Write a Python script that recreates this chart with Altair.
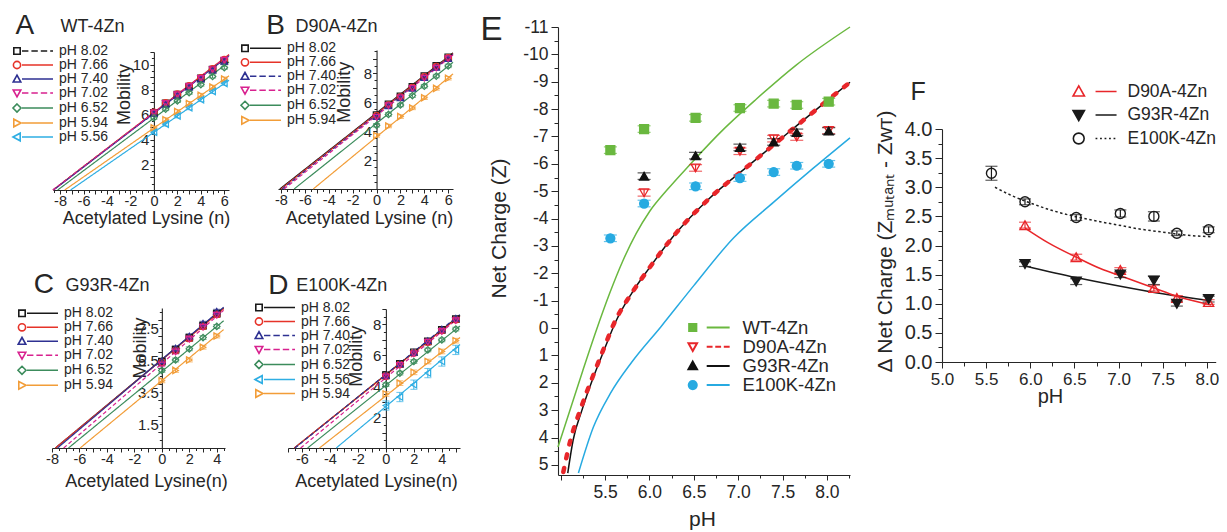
import math
import altair as alt
import pandas as pd

FONT = "Liberation Sans"
INK = "#262626"

# ============================ DATA ============================
# ---- Panel A : WT-4Zn ----
A_SERIES = ["pH 8.02", "pH 7.66", "pH 7.40", "pH 7.02", "pH 6.52", "pH 5.94", "pH 5.56"]
A_N = [0, 1, 2, 3, 4, 5, 6]
A_MOB = [
    [6.15, 6.90, 7.60, 8.25, 8.90, 9.60, 10.30],
    [6.20, 6.95, 7.65, 8.30, 8.95, 9.65, 10.40],
    [6.10, 6.85, 7.55, 8.20, 8.85, 9.55, 10.25],
    [6.15, 6.90, 7.60, 8.25, 8.90, 9.60, 10.35],
    [5.75, 6.45, 7.10, 7.75, 8.40, 9.05, 9.75],
    [4.95, 5.60, 6.25, 6.90, 7.55, 8.20, 8.85],
    [4.60, 5.25, 5.90, 6.55, 7.20, 7.85, 8.50],
]
A_ERR = [0.12, 0.12, 0.12, 0.12, 0.12, 0.15, 0.15]
A_FIT_X0 = [-8.6, -8.6, -8.55, -8.6, -8.2, -7.6, -7.1]
A_FIT_X1 = [6.4, 6.4, 6.4, 6.4, 6.4, 6.4, 6.4]
A_FIT_Y1 = [10.75, 10.8, 10.7, 10.75, 10.2, 9.1, 8.75]
A_DASHED = ["pH 8.02", "pH 7.02"]

# ---- Panel B : D90A-4Zn ----
B_SERIES = ["pH 8.02", "pH 7.66", "pH 7.40", "pH 7.02", "pH 6.52", "pH 5.94"]
B_N = [0, 1, 2, 3, 4, 5, 6]
B_MOB = [
    [5.10, 5.85, 6.40, 7.05, 7.80, 8.50, 9.10],
    [5.05, 5.80, 6.35, 7.00, 7.75, 8.45, 9.05],
    [5.00, 5.75, 6.30, 6.95, 7.70, 8.40, 9.00],
    [4.95, 5.75, 6.30, 6.95, 7.65, 8.35, 9.00],
    [4.40, 5.15, 5.80, 6.45, 7.10, 7.80, 8.50],
    [3.70, 4.35, 5.00, 5.60, 6.30, 6.95, 7.65],
]
B_ERR = [0.12, 0.12, 0.12, 0.12, 0.12, 0.12]
B_FIT_X0 = [-8.1, -8.0, -7.9, -7.75, -6.9, -5.3]
B_FIT_X1 = [6.4, 6.4, 6.4, 6.4, 6.4, 6.4]
B_FIT_Y1 = [9.4, 9.35, 9.3, 9.25, 8.75, 7.95]
B_DASHED = ["pH 7.40", "pH 7.02"]

# ---- Panel C : G93R-4Zn ----
C_SERIES = ["pH 8.02", "pH 7.66", "pH 7.40", "pH 7.02", "pH 6.52", "pH 5.94"]
C_N = [0, 1, 2, 3, 4]
C_MOB = [
    [5.40, 6.15, 6.90, 7.65, 8.40],
    [5.35, 6.10, 6.85, 7.60, 8.35],
    [5.45, 6.25, 7.00, 7.80, 8.55],
    [5.20, 6.00, 6.80, 7.55, 8.30],
    [4.85, 5.50, 6.20, 6.90, 7.60],
    [4.20, 4.85, 5.50, 6.30, 7.00],
]
C_ERR = [0.12, 0.12, 0.12, 0.12, 0.12, 0.12]
C_FIT_X0 = [-7.75, -7.75, -7.6, -7.15, -6.8, -5.95]
C_FIT_X1 = [4.5, 4.5, 4.5, 4.5, 4.5, 4.5]
C_FIT_Y1 = [8.75, 8.7, 8.8, 8.6, 7.95, 7.4]
C_DASHED = ["pH 7.02"]

# ---- Panel D : E100K-4Zn ----
D_SERIES = ["pH 8.02", "pH 7.66", "pH 7.40", "pH 7.02", "pH 6.52", "pH 5.56", "pH 5.94"]
D_N = [0, 1, 2, 3, 4, 5]
D_MOB = [
    [4.70, 5.45, 6.20, 6.90, 7.65, 8.35],
    [4.65, 5.40, 6.15, 6.85, 7.60, 8.30],
    [4.70, 5.45, 6.20, 6.95, 7.70, 8.40],
    [4.60, 5.35, 6.10, 6.85, 7.55, 8.25],
    [4.10, 4.85, 5.60, 6.35, 7.00, 7.70],
    [2.75, 3.30, 4.10, 4.85, 5.60, 6.35],
    [3.50, 4.20, 4.90, 5.60, 6.25, 6.95],
]
D_ERR = [0.12, 0.12, 0.12, 0.12, 0.12, 0.3, 0.15]
D_FIT_X0 = [-6.55, -6.55, -6.5, -6.1, -5.6, -3.55, -4.75]
D_FIT_X1 = [5.3, 5.3, 5.3, 5.3, 5.3, 5.3, 5.3]
D_FIT_Y1 = [8.6, 8.55, 8.65, 8.5, 7.9, 6.7, 7.15]
D_DASHED = ["pH 7.40", "pH 7.02"]

# ---- Panel E : net charge vs pH ----
E_SERIES = ["WT-4Zn", "D90A-4Zn", "G93R-4Zn", "E100K-4Zn"]
E_PH = [5.56, 5.94, 6.52, 7.02, 7.40, 7.66, 8.02]
E_WT_Z = [-6.50, -7.27, -7.68, -8.04, -8.20, -8.15, -8.27]
E_D90A_Z = [None, -4.94, -5.85, -6.46, -6.92, -6.98, -7.22]
E_G93R_Z = [None, -5.55, -6.30, -6.60, -6.80, -7.15, -7.20]
E_E100K_Z = [-3.28, -4.55, -5.18, -5.48, -5.70, -5.93, -6.00]
E_ERR = [0.12, 0.12, 0.12, 0.12]
E_WT_FIT_PH = [4.97, 5.10, 5.25, 5.40, 5.55, 5.70, 5.85, 6.00, 6.20, 6.45, 6.80, 7.20, 7.65, 8.26]
E_WT_FIT_Z = [4.35, 3.05, 1.55, 0.10, -1.25, -2.45, -3.45, -4.25, -5.05, -5.95, -7.15, -8.35, -9.60, -11.0]
E_D90A_FIT_PH = [5.03, 5.11, 5.22, 5.37, 5.48, 5.61, 5.80, 6.00, 6.30, 6.66, 7.13, 7.58, 8.03, 8.26]
E_D90A_FIT_Z = [5.26, 4.10, 3.00, 1.70, 0.80, -0.23, -1.27, -2.20, -3.47, -4.69, -5.97, -7.18, -8.38, -8.98]
E_G93R_FIT_PH = [5.08, 5.14, 5.24, 5.38, 5.49, 5.62, 5.80, 6.00, 6.30, 6.66, 7.13, 7.58, 8.03, 8.26]
E_G93R_FIT_Z = [5.30, 4.10, 3.00, 1.70, 0.80, -0.23, -1.27, -2.20, -3.47, -4.69, -5.97, -7.18, -8.38, -8.98]
E_E100K_FIT_PH = [5.20, 5.37, 5.56, 5.80, 6.13, 6.50, 6.95, 7.40, 7.85, 8.26]
E_E100K_FIT_Z = [5.30, 3.61, 2.39, 1.25, -0.05, -1.55, -3.30, -4.60, -5.85, -6.95]

# ---- Panel F : delta net charge vs pH ----
F_SERIES = ["D90A-4Zn", "G93R-4Zn", "E100K-4Zn"]
F_PH = [5.56, 5.94, 6.52, 7.02, 7.40, 7.66, 8.02]
F_D90A = [None, 2.35, 1.80, 1.58, 1.27, 1.10, 1.03]
F_G93R = [None, 1.68, 1.38, 1.50, 1.40, 1.00, 1.08]
F_E100K = [3.24, 2.75, 2.48, 2.55, 2.50, 2.21, 2.27]
F_D90A_ERR = [None, 0.05, 0.05, 0.04, 0.05, 0.04, 0.04]
F_G93R_ERR = [None, 0.04, 0.05, 0.05, 0.07, 0.04, 0.05]
F_E100K_ERR = [0.12, 0.05, 0.05, 0.06, 0.08, 0.04, 0.05]
F_D90A_FIT_PH = [5.94, 6.20, 6.52, 6.80, 7.02, 7.40, 7.66, 8.05]
F_D90A_FIT = [2.30, 2.05, 1.80, 1.60, 1.48, 1.27, 1.13, 0.98]
F_G93R_FIT_PH = [5.94, 6.52, 7.02, 7.50, 8.05]
F_G93R_FIT = [1.65, 1.45, 1.30, 1.17, 1.05]
F_E100K_FIT_PH = [5.60, 5.80, 6.00, 6.25, 6.50, 6.75, 7.00, 7.25, 7.50, 7.75, 8.05]
F_E100K_FIT = [3.00, 2.85, 2.73, 2.60, 2.50, 2.42, 2.35, 2.28, 2.23, 2.18, 2.15]

# ============================ STYLE ============================
PH_COLOR = {"pH 8.02": "#1a1a1a", "pH 7.66": "#e63329", "pH 7.40": "#2e3192",
            "pH 7.02": "#d8218f", "pH 6.52": "#3c8c5c", "pH 5.94": "#f29d38",
            "pH 5.56": "#2faee3"}
PH_SHAPE = {"pH 8.02": "square", "pH 7.66": "circle", "pH 7.40": "triangle-up",
            "pH 7.02": "triangle-down", "pH 6.52": "diamond", "pH 5.94": "triangle-right",
            "pH 5.56": "triangle-left"}
MUT_COLOR = {"WT-4Zn": "#6ab83f", "D90A-4Zn": "#e8262a", "G93R-4Zn": "#111111", "E100K-4Zn": "#27aae1"}

MARKER_PATHS = {
    "square": "M-0.8,-0.8L0.8,-0.8L0.8,0.8L-0.8,0.8Z",
    "circle": "M-0.9,0A0.9,0.9,0,1,0,0.9,0A0.9,0.9,0,1,0,-0.9,0Z",
    "triangle-up": "M0,-0.95L0.95,0.75L-0.95,0.75Z",
    "triangle-down": "M0,0.95L0.95,-0.75L-0.95,-0.75Z",
    "diamond": "M0,-1L1,0L0,1L-1,0Z",
    "triangle-right": "M1,0L-0.8,-0.95L-0.8,0.95Z",
    "triangle-left": "M-1,0L0.8,-0.95L0.8,0.95Z",
}

# ============================ LAYOUT (page pixels) ============================
W, H = 1211, 524       # single view covering the page (8 px page margin)
PM = 8                 # page margin -> view coordinate shift


def pv(p):
    return p - PM


LAY = {
    "A": {"xdom": [-8.6, 6.4], "ydom": [0, 11], "xr": [53, 229], "yr": [190, 52],
          "xtitle": "Acetylated Lysine (n)", "xt": [146, 33], "mob": [-29, 94],
          "leg": [10, 44], "let": [15, 33], "name": [60, 31.7]},
    "B": {"xdom": [-8.25, 6.4], "ydom": [0, 9.6], "xr": [278, 453], "yr": [189, 50],
          "xtitle": "Acetylated Lysine (n)", "xt": [369, 34], "mob": [-32, 91.7],
          "leg": [238, 41.3], "let": [265.7, 33.3], "name": [295, 31.7]},
    "C": {"xdom": [-8.0, 4.6], "ydom": [0, 8.75], "xr": [52, 225], "yr": [448, 308],
          "xtitle": "Acetylated Lysine(n)", "xt": [146, 38], "mob": [-21.8, 347.5],
          "leg": [15, 306.3], "let": [33.3, 292.7], "name": [65, 290.7]},
    "D": {"xdom": [-7.0, 5.3], "ydom": [0, 9.0], "xr": [288, 460], "yr": [448, 309],
          "xtitle": "Acetylated Lysine(n)", "xt": [376, 38], "mob": [-29.4, 355.8],
          "leg": [252, 300.5], "let": [267.7, 293.3], "name": [295.7, 290]},
}


def seg_path(x0, x1, dash=None, gap=None):
    if dash is None:
        return f"M{x0:.2f},0L{x1:.2f},0"
    out, x = [], x0
    while x < x1 - 1e-6:
        e = min(x + dash, x1)
        out.append(f"M{x:.2f},0L{e:.2f},0")
        x = e + gap
    return "".join(out)


def tick_values(lo, hi, step):
    start = math.ceil(lo / step - 1e-9) * step
    vals, k = [], 0
    while start + k * step <= hi + 1e-9:
        vals.append(round(start + k * step, 4))
        k += 1
    return vals


def cond_size(test, major, minor):
    return {"condition": {"test": test, "value": major}, "value": minor}


def title_axis(orient, text, size, pos):
    # axis used only to carry a positioned title (panel letter / panel name)
    return alt.Axis(orient=orient, offset=0, title=text, titleFontSize=size, titleFont=FONT,
                    titleFontWeight="normal", titleColor=INK, titleAngle=0,
                    titleAlign="left", titleBaseline="alphabetic",
                    titleX=pv(pos[0]), titleY=pv(pos[1]),
                    domain=False, ticks=False, labels=False, grid=False)


def make_legend(pos, size, font, offset, rowpad, sw):
    return alt.Legend(orient="none", legendX=pv(pos[0]), legendY=pv(pos[1]), title=None,
                      labelFont=FONT, labelFontSize=font, labelColor=INK,
                      symbolSize=size, symbolStrokeWidth=sw, labelOffset=offset,
                      rowPadding=rowpad, padding=0, labelLimit=300)


# ============================ PANELS A-D ============================
def mobility_panel(series, N, MOB, ERR, X0, X1, Y1, dashed, letter, name, L, ylab):
    xmin, xmax = L["xdom"]
    xr = [pv(L["xr"][0]), pv(L["xr"][1])]
    yr = [pv(L["yr"][0]), pv(L["yr"][1])]
    xs = alt.Scale(domain=L["xdom"], range=xr, nice=False, zero=False)
    ys = alt.Scale(domain=L["ydom"], range=yr, nice=False, zero=False)
    cs = alt.Scale(domain=series, range=[PH_COLOR[s] for s in series])
    shp = alt.Scale(domain=series, range=[PH_SHAPE[s] for s in series])
    ds = alt.Scale(domain=series, range=[[4, 2.5] if s in dashed else [1, 0] for s in series])

    pts = pd.DataFrame([{"s": s, "n": n, "m": v, "lo": v - e, "hi": v + e}
                        for s, vals, e in zip(series, MOB, ERR) for n, v in zip(N, vals)])
    fit = pd.DataFrame([r for s, a, b, c in zip(series, X0, X1, Y1)
                        for r in ({"s": s, "x": a, "y": 0.0, "o": 0}, {"s": s, "x": b, "y": c, "o": 1})])

    x_zero = xr[0] + (0 - xmin) / (xmax - xmin) * (xr[1] - xr[0])
    xaxis = alt.Axis(orient="bottom", offset=yr[0] - H, values=tick_values(xmin, xmax, 0.5),
                     labelExpr="datum.value % 2 === 0 ? '' + datum.value : ''",
                     tickSize=cond_size("datum.value % 1 === 0", 4, 2.5),
                     labelFontSize=14.5, labelPadding=0, labelOverlap=False, labelFlush=False,
                     title=L["xtitle"], titleFontSize=18, titleAngle=0, titleAlign="center",
                     titleBaseline="alphabetic", titleX=pv(L["xt"][0]), titleY=L["xt"][1], grid=False)
    yaxis = alt.Axis(orient="left", offset=-x_zero, values=tick_values(0.5, L["ydom"][1], 0.5),
                     labelExpr=ylab, tickSize=cond_size("datum.value % 1 === 0", 4, 2.5),
                     labelFontSize=15, labelPadding=1, labelOverlap=False, labelFlush=False,
                     title="Mobility", titleFontSize=18, titleAngle=270,
                     titleBaseline="middle", titleAlign="center",
                     titleX=L["mob"][0], titleY=pv(L["mob"][1]), grid=False)

    X = lambda f, ax=None: alt.X(f, scale=xs, axis=ax)
    Y = lambda f, ax=None: alt.Y(f, scale=ys, axis=ax)
    col = alt.Color("s:N", scale=cs, legend=None)

    lines = alt.Chart(fit).mark_line(strokeWidth=1.2).encode(
        x=X("x:Q", xaxis), y=Y("y:Q", yaxis), color=col,
        strokeDash=alt.StrokeDash("s:N", scale=ds, legend=None), order="o:Q")
    bars = alt.Chart(pts).mark_rule(strokeWidth=1).encode(
        x=X("n:Q"), y=Y("lo:Q"), y2="hi:Q", color=col)
    caps = alt.Chart(pts).transform_fold(["lo", "hi"], as_=["k", "v"]).mark_tick(
        orient="horizontal", size=7, thickness=1).encode(x=X("n:Q"), y=Y("v:Q"), color=col)
    points = alt.Chart(pts).mark_point(filled=False, size=42, strokeWidth=1.2, opacity=1).encode(
        x=X("n:Q"), y=Y("m:Q"), color=col, shape=alt.Shape("s:N", scale=shp, legend=None))

    paths = [MARKER_PATHS[PH_SHAPE[s]] + (seg_path(1.25, 9.0, 1.6, 0.75) if s in dashed else seg_path(1.25, 9.0))
             for s in series]
    leg = make_legend(L["leg"], 64, 14, 35, 0, 1.6)
    legend_layer = alt.Chart(pd.DataFrame({"s": series})).transform_filter("false").mark_point(
        filled=False, opacity=1).encode(
        x=X("lx:Q", title_axis("top", name, 18, L["name"])),
        y=Y("ly:Q", title_axis("left", letter, 28, L["let"])),
        color=alt.Color("s:N", scale=alt.Scale(domain=series, range=[PH_COLOR[s] for s in series]), legend=leg),
        shape=alt.Shape("s:N", scale=alt.Scale(domain=series, range=paths), legend=leg))

    return alt.layer(lines, bars, caps, points, legend_layer).resolve_scale(
        color="independent", shape="independent", strokeDash="independent").resolve_axis(
        x="independent", y="independent")


even_lab = "datum.value % 2 === 0 ? '' + datum.value : ''"
c_lab = "(datum.value - 1.5) % 2 === 0 && datum.value > 1 ? format(datum.value, '.1f') : ''"
pA = mobility_panel(A_SERIES, A_N, A_MOB, A_ERR, A_FIT_X0, A_FIT_X1, A_FIT_Y1, A_DASHED,
                    "A", "WT-4Zn", LAY["A"], even_lab)
pB = mobility_panel(B_SERIES, B_N, B_MOB, B_ERR, B_FIT_X0, B_FIT_X1, B_FIT_Y1, B_DASHED,
                    "B", "D90A-4Zn", LAY["B"], even_lab)
pC = mobility_panel(C_SERIES, C_N, C_MOB, C_ERR, C_FIT_X0, C_FIT_X1, C_FIT_Y1, C_DASHED,
                    "C", "G93R-4Zn", LAY["C"], c_lab)
pD = mobility_panel(D_SERIES, D_N, D_MOB, D_ERR, D_FIT_X0, D_FIT_X1, D_FIT_Y1, D_DASHED,
                    "D", "E100K-4Zn", LAY["D"], even_lab)

# ============================ PANEL E ============================
E_VALUES = [E_WT_Z, E_D90A_Z, E_G93R_Z, E_E100K_Z]
e_pts = pd.DataFrame([{"s": s, "ph": p, "z": v, "lo": v - e, "hi": v + e}
                      for s, vals, e in zip(E_SERIES, E_VALUES, E_ERR)
                      for p, v in zip(E_PH, vals) if v is not None])
exs = alt.Scale(domain=[4.97, 8.26], range=[pv(558), pv(850)], nice=False, zero=False)
eys = alt.Scale(domain=[-11, 5.37], range=[pv(27), pv(475)], nice=False, zero=False)
EX = lambda f, ax=None: alt.X(f, scale=exs, axis=ax)
EY = lambda f, ax=None: alt.Y(f, scale=eys, axis=ax)
e_xaxis = alt.Axis(orient="bottom", offset=pv(475) - H, values=tick_values(5.0, 8.26, 0.25),
                   labelExpr="datum.value % 0.5 === 0 && datum.value > 5.2 ? format(datum.value, '.1f') : ''",
                   tickSize=cond_size("datum.value % 0.5 === 0", 5, 3),
                   labelFontSize=17.5, labelPadding=3, labelOverlap=False, labelFlush=False,
                   title="pH", titleFontSize=21, titleAngle=0, titleAlign="center",
                   titleBaseline="alphabetic", titleX=pv(702), titleY=50, grid=False)
e_yaxis = alt.Axis(orient="left", offset=-pv(558), values=tick_values(-11, 5.37, 0.5),
                   labelExpr="datum.value % 1 === 0 ? '' + datum.value : ''",
                   tickSize=cond_size("datum.value % 1 === 0", 7, 4),
                   labelFontSize=17.5, labelPadding=3, labelOverlap=False, labelFlush=False,
                   title="Net Charge (Z)", titleFontSize=21, titleAngle=270, titleAlign="center",
                   titleBaseline="middle", titleX=-59, titleY=pv(228), grid=False)


def curve(ph, z, color, width, dash=None, ax=(None, None), cap="butt"):
    kw = {"strokeWidth": width, "color": color, "interpolate": "monotone", "strokeCap": cap}
    if dash:
        kw["strokeDash"] = dash
    return alt.Chart(pd.DataFrame({"ph": ph, "z": z})).mark_line(**kw).encode(
        x=EX("ph:Q", ax[0]), y=EY("z:Q", ax[1]))


e_curves = [
    curve(E_WT_FIT_PH, E_WT_FIT_Z, MUT_COLOR["WT-4Zn"], 1.5, ax=(e_xaxis, e_yaxis)),
    curve(E_E100K_FIT_PH, E_E100K_FIT_Z, MUT_COLOR["E100K-4Zn"], 1.5),
    curve(E_G93R_FIT_PH, E_G93R_FIT_Z, MUT_COLOR["G93R-4Zn"], 1.5),
    curve(E_D90A_FIT_PH, E_D90A_FIT_Z, MUT_COLOR["D90A-4Zn"], 4.5, dash=[4, 10], cap="round"),
]
e_col = alt.Color("s:N", scale=alt.Scale(domain=E_SERIES, range=[MUT_COLOR[s] for s in E_SERIES]), legend=None)
e_bars = alt.Chart(e_pts).mark_rule(strokeWidth=1.2).encode(x=EX("ph:Q"), y=EY("lo:Q"), y2="hi:Q", color=e_col)
e_caps = alt.Chart(e_pts).transform_fold(["lo", "hi"], as_=["k", "v"]).mark_tick(
    orient="horizontal", size=13, thickness=1.2).encode(x=EX("ph:Q"), y=EY("v:Q"), color=e_col)
E_SHAPE = ["square", "triangle-down", "triangle-up", "circle"]
E_FILL = [MUT_COLOR["WT-4Zn"], "transparent", MUT_COLOR["G93R-4Zn"], MUT_COLOR["E100K-4Zn"]]
E_STROKE = [MUT_COLOR[s] for s in E_SERIES]
e_points = alt.Chart(e_pts).mark_point(filled=True, size=80, strokeWidth=1.3, opacity=1).encode(
    x=EX("ph:Q"), y=EY("z:Q"),
    fill=alt.Fill("s:N", scale=alt.Scale(domain=E_SERIES, range=E_FILL), legend=None),
    stroke=alt.Stroke("s:N", scale=alt.Scale(domain=E_SERIES, range=E_STROKE), legend=None),
    shape=alt.Shape("s:N", scale=alt.Scale(domain=E_SERIES, range=E_SHAPE), legend=None))
e_paths = [MARKER_PATHS[sh] + (seg_path(3.1, 8.2, 1.3, 0.6) if s == "D90A-4Zn" else seg_path(3.1, 8.2))
           for s, sh in zip(E_SERIES, E_SHAPE)]
e_leg = make_legend([683.5, 318.25], 81, 18.5, 40.5, 0.2, 2)
e_legend = alt.Chart(pd.DataFrame({"s": E_SERIES})).transform_filter("false").mark_point(
    filled=True, opacity=1).encode(
    x=EX("lx:Q"), y=EY("ly:Q", title_axis("left", "E", 33, [480, 39.5])),
    fill=alt.Fill("s:N", scale=alt.Scale(domain=E_SERIES, range=E_FILL), legend=e_leg),
    stroke=alt.Stroke("s:N", scale=alt.Scale(domain=E_SERIES, range=E_STROKE), legend=e_leg),
    shape=alt.Shape("s:N", scale=alt.Scale(domain=E_SERIES, range=e_paths), legend=e_leg))
pE = alt.layer(*e_curves, e_bars, e_caps, e_points, e_legend).resolve_scale(
    color="independent", fill="independent", stroke="independent", shape="independent").resolve_axis(
    x="independent", y="independent")

# ============================ PANEL F ============================
F_VALUES = [F_D90A, F_G93R, F_E100K]
F_ERRS = [F_D90A_ERR, F_G93R_ERR, F_E100K_ERR]
f_pts = pd.DataFrame([{"s": s, "ph": p, "d": v, "lo": v - e, "hi": v + e}
                      for s, vals, errs in zip(F_SERIES, F_VALUES, F_ERRS)
                      for p, v, e in zip(F_PH, vals, errs) if v is not None])
fxs = alt.Scale(domain=[5.0, 8.1], range=[pv(942), pv(1215.7)], nice=False, zero=False)
fys = alt.Scale(domain=[0, 4.0], range=[pv(362), pv(129)], nice=False, zero=False)
FX = lambda f, ax=None: alt.X(f, scale=fxs, axis=ax)
FY = lambda f, ax=None: alt.Y(f, scale=fys, axis=ax)
f_xaxis = alt.Axis(orient="bottom", offset=pv(362) - H, values=tick_values(5.0, 8.1, 0.25),
                   labelExpr="datum.value % 0.5 === 0 ? format(datum.value, '.1f') : ''",
                   tickSize=cond_size("datum.value % 0.5 === 0", 6, 4),
                   labelFontSize=17, labelPadding=3, labelOverlap=False, labelFlush=False,
                   title="pH", titleFontSize=20, titleAngle=0, titleAlign="center",
                   titleBaseline="alphabetic", titleX=pv(1050), titleY=40, grid=False)
f_yaxis = alt.Axis(orient="left", offset=-pv(942), values=tick_values(0, 4.0, 0.25),
                   labelExpr="datum.value % 0.5 === 0 ? format(datum.value, '.1f') : ''",
                   tickSize=cond_size("datum.value % 0.5 === 0", 7, 4),
                   labelFontSize=20, labelPadding=3, labelOverlap=False, labelFlush=False,
                   title="Δ Net Charge (Zₘᵤₜₐₙₜ - Zᴡᴛ)", titleFontSize=21, titleAngle=270,
                   titleAlign="center", titleBaseline="middle", titleX=-57, titleY=pv(241), grid=False)


def fcurve(ph, d, color, dash=None, ax=(None, None)):
    kw = {"strokeWidth": 1.5, "color": color, "interpolate": "monotone"}
    if dash:
        kw["strokeDash"] = dash
    return alt.Chart(pd.DataFrame({"ph": ph, "d": d})).mark_line(**kw).encode(
        x=FX("ph:Q", ax[0]), y=FY("d:Q", ax[1]))


f_curves = [
    fcurve(F_E100K_FIT_PH, F_E100K_FIT, "#222222", dash=[2.5, 2.5], ax=(f_xaxis, f_yaxis)),
    fcurve(F_G93R_FIT_PH, F_G93R_FIT, "#1a1a1a"),
    fcurve(F_D90A_FIT_PH, F_D90A_FIT, "#e8262a"),
]
F_STROKE = ["#e8262a", "#1a1a1a", "#1a1a1a"]
F_FILL = ["transparent", "#1a1a1a", "transparent"]
F_SHAPE = ["triangle-up", "triangle-down", "circle"]
f_col = alt.Color("s:N", scale=alt.Scale(domain=F_SERIES, range=F_STROKE), legend=None)
f_bars = alt.Chart(f_pts).mark_rule(strokeWidth=1.2).encode(x=FX("ph:Q"), y=FY("lo:Q"), y2="hi:Q", color=f_col)
f_caps = alt.Chart(f_pts).transform_fold(["lo", "hi"], as_=["k", "v"]).mark_tick(
    orient="horizontal", size=12, thickness=1.2).encode(x=FX("ph:Q"), y=FY("v:Q"), color=f_col)
f_points = alt.Chart(f_pts).mark_point(filled=True, size=100, strokeWidth=1.4, opacity=1).encode(
    x=FX("ph:Q"), y=FY("d:Q"),
    fill=alt.Fill("s:N", scale=alt.Scale(domain=F_SERIES, range=F_FILL), legend=None),
    stroke=alt.Stroke("s:N", scale=alt.Scale(domain=F_SERIES, range=F_STROKE), legend=None),
    shape=alt.Shape("s:N", scale=alt.Scale(domain=F_SERIES, range=F_SHAPE), legend=None))
f_paths = [MARKER_PATHS["triangle-up"] + seg_path(2.8, 6.3),
           MARKER_PATHS["triangle-down"] + seg_path(2.8, 6.3),
           MARKER_PATHS["circle"] + seg_path(2.8, 6.3, 0.3, 0.45)]
f_leg = make_legend([1070, 82.75], 144, 17.5, 40, 4.5, 1.6)
f_legend = alt.Chart(pd.DataFrame({"s": F_SERIES})).transform_filter("false").mark_point(
    filled=True, opacity=1).encode(
    x=FX("lx:Q"), y=FY("ly:Q", title_axis("left", "F", 25, [910, 99.3])),
    fill=alt.Fill("s:N", scale=alt.Scale(domain=F_SERIES, range=F_FILL), legend=f_leg),
    stroke=alt.Stroke("s:N", scale=alt.Scale(domain=F_SERIES, range=F_STROKE), legend=f_leg),
    shape=alt.Shape("s:N", scale=alt.Scale(domain=F_SERIES, range=f_paths), legend=f_leg))
pF = alt.layer(*f_curves, f_bars, f_caps, f_points, f_legend).resolve_scale(
    color="independent", fill="independent", stroke="independent", shape="independent").resolve_axis(
    x="independent", y="independent")

# ============================ ONE VIEW, SIX PANELS ============================
chart = alt.layer(pA, pB, pC, pD, pE, pF).resolve_scale(
    x="independent", y="independent", color="independent", shape="independent",
    strokeDash="independent", fill="independent", stroke="independent").resolve_axis(
    x="independent", y="independent").properties(
    width=W, height=H, autosize=alt.AutoSizeParams(type="none"), padding=0, background="white"
).configure_view(stroke=None).configure_axis(
    labelFont=FONT, titleFont=FONT, labelColor=INK, titleColor=INK, domainColor=INK,
    tickColor=INK, titleFontWeight="normal", grid=False, domainWidth=1.1, tickWidth=1
).configure_legend(labelFont=FONT)

chart.save("out.html", embed_options={"renderer": "svg", "actions": False})
